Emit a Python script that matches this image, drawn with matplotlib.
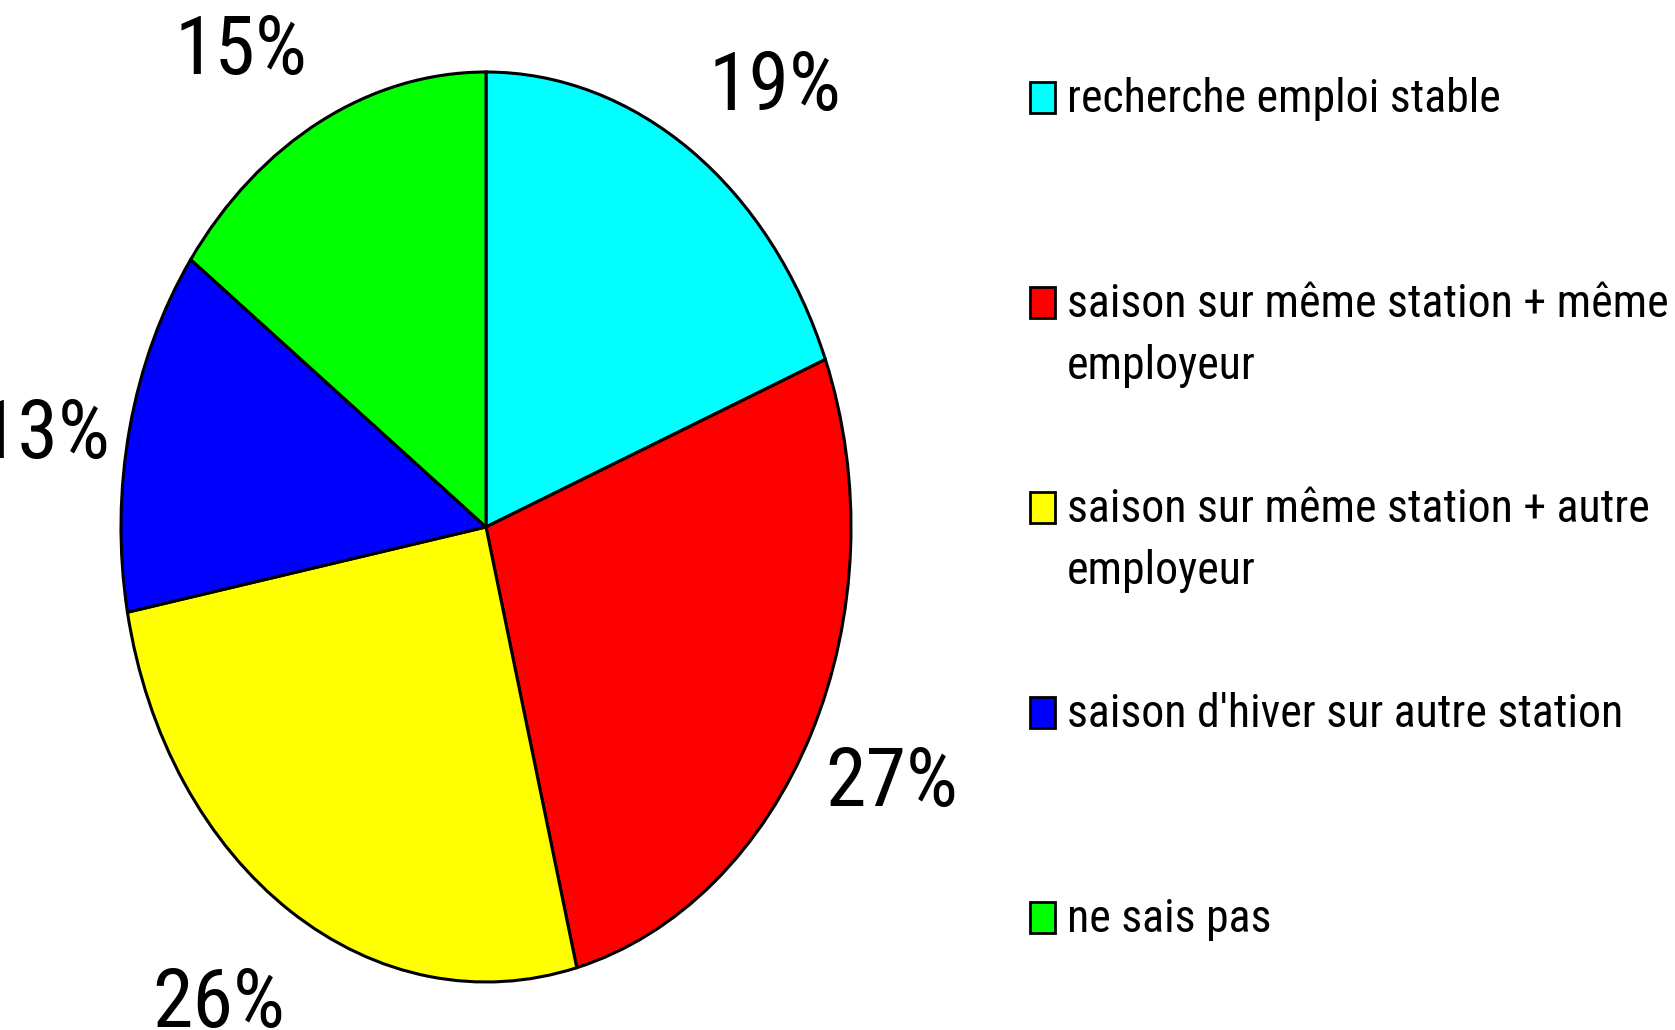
import numpy as np
import matplotlib
matplotlib.use('Agg')
from matplotlib import pyplot as plt
from matplotlib.patches import Rectangle

plt.rcParams['font.family'] = ['Roboto Condensed', 'Liberation Sans', 'DejaVu Sans']

labels = [
    'recherche emploi stable',
    'saison sur même station + même\nemployeur',
    'saison sur même station + autre\nemployeur',
    "saison d'hiver sur autre station",
    'ne sais pas',
]
values = [19, 27, 26, 13, 15]
colors = ['#00FFFF', '#FF0000', '#FFFF00', '#0000FF', '#00FF00']

# where each percentage sits: radius (in pie radii) and clockwise nudge from the wedge middle (deg)
lab_r = [1.21, 1.27, 1.32, 1.22, 1.20]
lab_dtheta = [6.6, 1.9, 1.3, -5.5, -7.0]

W, H = 1675, 1030
fig = plt.figure(figsize=(W / 100, H / 100), dpi=100)

# pie is drawn as an ellipse: axes box is taller than wide
cx, cy, rx, ry = 486, 527, 365, 455
ax = fig.add_axes([(cx - rx) / W, (H - cy - ry) / H, 2 * rx / W, 2 * ry / H])
wedges, texts, autotexts = ax.pie(
    values, colors=colors, startangle=90, counterclock=False,
    autopct=lambda p: f'{p:.0f}%', pctdistance=1.25,
    wedgeprops=dict(edgecolor='black', linewidth=2.2),
    textprops=dict(fontsize=59, color='black'))
ax.set_aspect('auto')
ax.set_xlim(-1, 1)
ax.set_ylim(-1, 1)
ax.axis('off')

for w, t, r, dt in zip(wedges, autotexts, lab_r, lab_dtheta):
    ang = np.deg2rad((w.theta1 + w.theta2) / 2 - dt)
    t.set_position((r * np.cos(ang), r * np.sin(ang)))
    t.set_va('baseline')
    t.set_ha('center')

# legend: square swatch + text, one entry every 205 px, wrapped lines 62 px apart
base_y = 112
step = 205
line_gap = 62
for i, (lab, col) in enumerate(zip(labels, colors)):
    y = base_y + i * step
    fig.patches.append(Rectangle((1030 / W, 1 - (y + 1) / H), 25 / W, 31 / H,
                                 transform=fig.transFigure, facecolor=col,
                                 edgecolor='black', linewidth=2))
    for k, line in enumerate(lab.split('\n')):
        fig.text(1067 / W, 1 - (y + k * line_gap) / H, line, fontsize=33,
                 va='baseline', ha='left')

fig.savefig('out.png', dpi=100, facecolor='white')
